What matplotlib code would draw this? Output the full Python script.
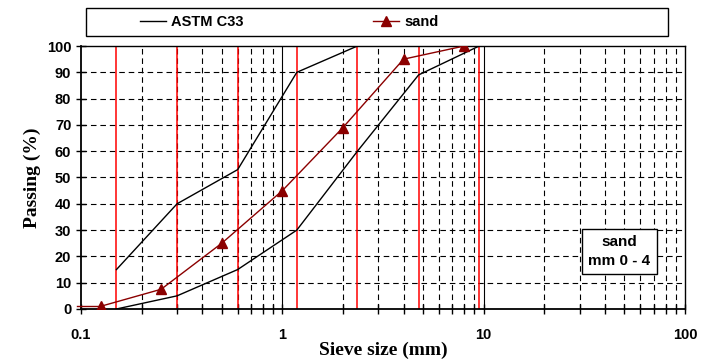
import matplotlib
matplotlib.use("Agg")
import matplotlib.pyplot as plt
from matplotlib.patches import Rectangle
from matplotlib.ticker import FixedLocator, NullFormatter

# ASTM C33 grading limits for fine aggregate
astm_sizes = [0.15, 0.3, 0.6, 1.18, 2.36, 4.75, 9.5]
astm_upper = [15, 40, 53, 90, 100, 100, 100]
astm_lower = [0, 5, 15, 30, 60, 89, 100]

# measured sand grading
sand_sizes = [0.095, 0.125, 0.25, 0.5, 1.0, 2.0, 4.0, 8.0]
sand_passing = [1, 1, 7.5, 25, 45, 69, 95, 100]

# sieve openings marked by red lines
sieve_lines = [0.15, 0.3, 0.6, 1.18, 2.36, 4.75, 9.5]

x_ticks = [0.1, 1, 10, 100]
x_ticklabels = ["0.1", "1", "10", "100"]
y_ticks = list(range(0, 101, 10))

sans = "Liberation Sans"
serif = "Liberation Serif"
dash = (0, (5, 3.5))

fig = plt.figure(figsize=(7.02, 3.6), dpi=100)
ax = fig.add_axes([0.1154, 0.1417, 0.8604, 0.7305])
ax.set_xscale("log")
ax.set_xlim(0.1, 100)
ax.set_ylim(0, 100)

# grid
minor_x = [m * d for d in (0.1, 1, 10) for m in range(2, 10)]
for v in minor_x:
    ax.axvline(v, color="black", lw=0.8, ls=dash, zorder=1)
for v in (1, 10):
    ax.axvline(v, color="black", lw=0.8, zorder=1)
for v in y_ticks[1:-1]:
    ax.axhline(v, color="black", lw=0.8, ls=dash, zorder=1)

for v in sieve_lines:
    ax.axvline(v, color="#ff0000", lw=1.1, zorder=2)

line_astm, = ax.plot(astm_sizes, astm_upper, color="black", lw=1.0, zorder=3)
ax.plot(astm_sizes, astm_lower, color="black", lw=1.0, zorder=3)
line_sand, = ax.plot(sand_sizes[1:], sand_passing[1:], color="#8b0000", lw=1.0,
                     marker="^", ms=7, zorder=4)
ax.plot(sand_sizes[:2], sand_passing[:2], color="#8b0000", lw=1.0, zorder=4,
        clip_on=False)

ax.xaxis.set_major_locator(FixedLocator(x_ticks))
ax.xaxis.set_minor_locator(FixedLocator(minor_x))
ax.xaxis.set_minor_formatter(NullFormatter())
ax.set_xticklabels(x_ticklabels)
ax.set_yticks(y_ticks)
ax.tick_params(axis="both", which="both", direction="inout", length=7, width=1,
               labelsize=10.5)
ax.tick_params(axis="x", which="major", pad=10)
for lab in ax.get_xticklabels() + ax.get_yticklabels():
    lab.set_fontfamily(sans)
    lab.set_fontweight("bold")
for side in ("left", "bottom"):
    ax.spines[side].set_linewidth(1.3)
for side in ("right", "top"):
    ax.spines[side].set_linewidth(1.0)

ax.set_xlabel("Sieve size (mm)", family=serif, fontweight="bold", fontsize=14,
              labelpad=0)
ax.set_ylabel("Passing (%)", family=serif, fontweight="bold", fontsize=14,
              labelpad=4)

# info box
ax.text(0.891, 0.219, "sand\nmm 0 - 4", transform=ax.transAxes, ha="center",
        va="center", family=sans, fontweight="bold", fontsize=11,
        linespacing=1.45, zorder=6,
        bbox=dict(boxstyle="square,pad=0.42", fc="white", ec="black", lw=1))

# legend frame and entries
fig.patches.append(Rectangle((0.1225, 0.9), 0.829, 0.078, transform=fig.transFigure,
                             fc="white", ec="black", lw=1))
fig.legend([line_astm, line_sand], ["ASTM C33", "sand"], loc="center left",
           bbox_to_anchor=(0.2, 0.939), ncol=2, frameon=False,
           handlelength=1.75, handletextpad=0.35, columnspacing=8.9,
           borderaxespad=0, borderpad=0,
           prop=dict(family=sans, weight="bold", size=10.5))

fig.savefig("out.png", dpi=100)
